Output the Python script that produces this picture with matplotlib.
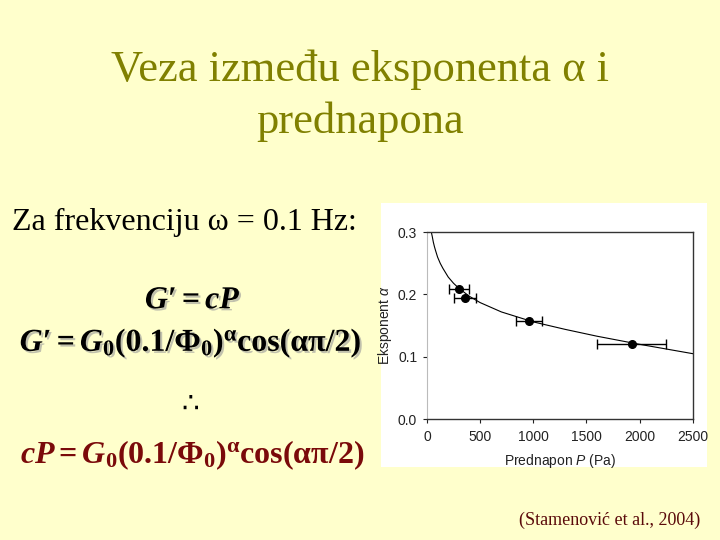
import matplotlib
matplotlib.use("Agg")
import matplotlib.pyplot as plt
from matplotlib.patches import Rectangle
import matplotlib.patheffects as pe
from matplotlib.ticker import FormatStrFormatter

plt.rcParams['mathtext.fontset'] = 'custom'
plt.rcParams['mathtext.rm'] = 'Liberation Serif:bold'
plt.rcParams['mathtext.it'] = 'Liberation Serif:italic:bold'
plt.rcParams['mathtext.bf'] = 'Liberation Serif:bold'
plt.rcParams['mathtext.sf'] = 'Liberation Sans:italic'

# data
pressure = [297, 359, 962, 1925]
alpha_vals = [0.208, 0.194, 0.158, 0.121]
pressure_err = [94, 106, 125, 325]

curve_p = [38, 45, 50, 60, 70, 80, 100, 125, 150, 200, 250, 300, 400, 500, 700,
           1000, 1300, 1600, 2000, 2500]
curve_a = [0.303, 0.297, 0.293, 0.284, 0.277, 0.271, 0.260, 0.250, 0.242, 0.228,
           0.218, 0.210, 0.197, 0.187, 0.172, 0.156, 0.144, 0.133, 0.120, 0.105]

x_ticks = [0, 500, 1000, 1500, 2000, 2500]
y_ticks = [0.0, 0.1, 0.2, 0.3]

fig = plt.figure(figsize=(7.2, 5.4), dpi=100, facecolor='#FFFFCC')

# white panel behind chart
fig.patches.append(Rectangle((0.529, 0.135), 0.453, 0.489, transform=fig.transFigure,
                             facecolor='white', edgecolor='none', zorder=-10))

ax = fig.add_axes([0.593, 0.224, 0.369, 0.346])
ax.set_zorder(2)
ax.set_facecolor('white')
ax.plot(curve_p, curve_a, color='black', lw=0.8)
ax.errorbar(pressure, alpha_vals, xerr=pressure_err, fmt='o', color='black',
            ms=5.5, elinewidth=1.0, capsize=3.5, capthick=1.0)
ax.set_xlim(0, 2500)
ax.set_ylim(0, 0.3)
ax.set_xticks(x_ticks)
ax.set_yticks(y_ticks)
ax.yaxis.set_major_formatter(FormatStrFormatter('%.1f'))
ax.tick_params(direction='out', length=3, width=0.8, labelsize=10,
               colors='#222222')
ax.tick_params(axis='x', pad=5)
ax.tick_params(axis='y', pad=4)
for lab in ax.get_xticklabels() + ax.get_yticklabels():
    lab.set_family('Liberation Sans')
for s in ['top', 'right', 'bottom']:
    ax.spines[s].set_color('#333333')
    ax.spines[s].set_linewidth(1.0)
ax.spines['left'].set_color('#bbbbbb')
ax.set_xlabel(r'Prednapon $\mathsf{P}$ (Pa)', fontsize=10, family='Liberation Sans',
              color='#222222', labelpad=6)
ax.set_ylabel(r'Eksponent $\mathsf{α}$', fontsize=10, family='Liberation Sans',
              color='#222222', labelpad=3)

# title
olive = '#808000'
fig.text(0.5, 1 - 70 / 540, 'Veza između eksponenta α i', ha='center', va='center',
         fontsize=32, family='Liberation Serif', color=olive)
fig.text(0.5, 1 - 122 / 540, 'prednapona', ha='center', va='center',
         fontsize=32, family='Liberation Serif', color=olive)

fig.text(12 / 720, 1 - 222 / 540, 'Za frekvenciju ω = 0.1 Hz:', ha='left', va='center',
         fontsize=23, family='Liberation Serif', color='black')

shadow = [pe.withSimplePatchShadow(offset=(1.5, -1.5), shadow_rgbFace='#999999', alpha=0.6)]
eq_tail = r"G_0(0.1/\Phi_0)^{\mathrm{\alpha}}\mathrm{cos(\alpha\pi/2)}"
fig.text(193 / 720, 1 - 300 / 540, "$G′ = cP$", ha='center', va='center',
         fontsize=23, color='black', path_effects=shadow)
fig.text(191 / 720, 1 - 343 / 540, "$G′ = " + eq_tail + "$",
         ha='center', va='center', fontsize=23, color='black', path_effects=shadow)
fig.text(190 / 720, 1 - 404 / 540, '∴', ha='center', va='center',
         fontsize=20, family=['DejaVu Sans'], color='black')
fig.text(192 / 720, 1 - 455 / 540, "$cP = " + eq_tail + "$",
         ha='center', va='center', fontsize=23, color='#7A0A0A')

fig.text(700 / 720, 1 - 520 / 540, '(Stamenović et al., 2004)', ha='right', va='center',
         fontsize=13, family='Liberation Serif', color='#5A0A0A')

fig.savefig('out.png', dpi=100, facecolor=fig.get_facecolor())
